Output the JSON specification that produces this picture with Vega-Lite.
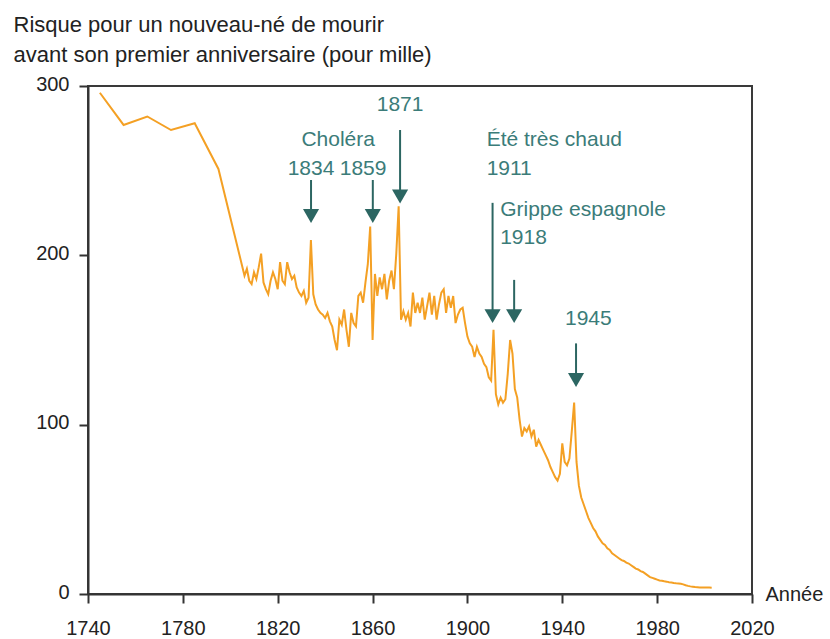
{
  "$schema": "https://vega.github.io/schema/vega-lite/v6.json",
  "width": 664,
  "height": 508,
  "autosize": {"type": "none"},
  "padding": {"left": 88, "top": 86, "right": 78, "bottom": 45},
  "background": "white",
  "config": {
    "view": {"stroke": "#3a3a3a", "strokeWidth": 2},
    "font": "Liberation Sans"
  },
  "datasets": {
    "imr": [
      {"year":1745,"value":296},{"year":1755,"value":277},{"year":1765,"value":282},{"year":1775,"value":274},{"year":1785,"value":278},{"year":1795,"value":251},
      {"year":1806,"value":188},{"year":1807,"value":192},{"year":1808,"value":185},{"year":1809,"value":183},{"year":1810,"value":190},
      {"year":1811,"value":186},{"year":1812,"value":193},{"year":1813,"value":201},{"year":1814,"value":184},{"year":1815,"value":180},
      {"year":1816,"value":177},{"year":1817,"value":185},{"year":1818,"value":190},{"year":1819,"value":186},{"year":1820,"value":180},
      {"year":1821,"value":196},{"year":1822,"value":185},{"year":1823,"value":183},{"year":1824,"value":196},{"year":1825,"value":190},
      {"year":1826,"value":186},{"year":1827,"value":188},{"year":1828,"value":181},{"year":1829,"value":178},{"year":1830,"value":176},
      {"year":1831,"value":179},{"year":1832,"value":172},{"year":1833,"value":175},{"year":1834,"value":209},{"year":1835,"value":177},
      {"year":1836,"value":171},{"year":1837,"value":168},{"year":1838,"value":166},{"year":1839,"value":165},{"year":1840,"value":163},
      {"year":1841,"value":166},{"year":1842,"value":161},{"year":1843,"value":158},{"year":1844,"value":150},{"year":1845,"value":144},
      {"year":1846,"value":162},{"year":1847,"value":159},{"year":1848,"value":168},{"year":1849,"value":156},{"year":1850,"value":146},
      {"year":1851,"value":166},{"year":1852,"value":160},{"year":1853,"value":158},{"year":1854,"value":176},{"year":1855,"value":178},
      {"year":1856,"value":172},{"year":1857,"value":184},{"year":1858,"value":195},{"year":1859,"value":217},{"year":1860,"value":150},
      {"year":1861,"value":189},{"year":1862,"value":176},{"year":1863,"value":187},{"year":1864,"value":180},{"year":1865,"value":189},
      {"year":1866,"value":174},{"year":1867,"value":185},{"year":1868,"value":191},{"year":1869,"value":180},{"year":1870,"value":201},
      {"year":1871,"value":229},{"year":1872,"value":162},{"year":1873,"value":167},{"year":1874,"value":162},{"year":1875,"value":166},
      {"year":1876,"value":158},{"year":1877,"value":178},{"year":1878,"value":166},{"year":1879,"value":172},{"year":1880,"value":166},
      {"year":1881,"value":175},{"year":1882,"value":162},{"year":1883,"value":170},{"year":1884,"value":178},{"year":1885,"value":165},
      {"year":1886,"value":176},{"year":1887,"value":162},{"year":1888,"value":171},{"year":1889,"value":178},{"year":1890,"value":180},
      {"year":1891,"value":166},{"year":1892,"value":176},{"year":1893,"value":169},{"year":1894,"value":176},{"year":1895,"value":160},
      {"year":1896,"value":165},{"year":1897,"value":168},{"year":1898,"value":169},{"year":1899,"value":160},{"year":1900,"value":152},
      {"year":1901,"value":148},{"year":1902,"value":146},{"year":1903,"value":140},{"year":1904,"value":146},{"year":1905,"value":142},
      {"year":1906,"value":140},{"year":1907,"value":136},{"year":1908,"value":134},{"year":1909,"value":128},{"year":1910,"value":126},
      {"year":1911,"value":156},{"year":1912,"value":118},{"year":1913,"value":112},{"year":1914,"value":116},{"year":1915,"value":113},
      {"year":1916,"value":115},{"year":1917,"value":130},{"year":1918,"value":150},{"year":1919,"value":142},{"year":1920,"value":121},
      {"year":1921,"value":116},{"year":1922,"value":103},{"year":1923,"value":93},{"year":1924,"value":98},{"year":1925,"value":96},
      {"year":1926,"value":99},{"year":1927,"value":93},{"year":1928,"value":97},{"year":1929,"value":87},{"year":1930,"value":91},
      {"year":1931,"value":88},{"year":1932,"value":85},{"year":1933,"value":82},{"year":1934,"value":79},{"year":1935,"value":75},
      {"year":1936,"value":72},{"year":1937,"value":69},{"year":1938,"value":67},{"year":1939,"value":71},{"year":1940,"value":89},
      {"year":1941,"value":78},{"year":1942,"value":76},{"year":1943,"value":80},{"year":1944,"value":96},{"year":1945,"value":113},
      {"year":1946,"value":78},{"year":1947,"value":64},{"year":1948,"value":57},{"year":1949,"value":53},{"year":1950,"value":49},
      {"year":1951,"value":45},{"year":1952,"value":42},{"year":1953,"value":39},{"year":1954,"value":37},{"year":1955,"value":34},
      {"year":1956,"value":32},{"year":1957,"value":30},{"year":1958,"value":29},{"year":1959,"value":27},{"year":1960,"value":26},
      {"year":1961,"value":24},{"year":1962,"value":23},{"year":1963,"value":22},{"year":1964,"value":21},{"year":1965,"value":20},
      {"year":1966,"value":19.5},{"year":1967,"value":18.5},{"year":1968,"value":18},{"year":1969,"value":17},{"year":1970,"value":16},
      {"year":1971,"value":15},{"year":1972,"value":14.5},{"year":1973,"value":13.5},{"year":1974,"value":13},{"year":1975,"value":12},
      {"year":1976,"value":11},{"year":1977,"value":10},{"year":1978,"value":9.5},{"year":1979,"value":9},{"year":1980,"value":8.5},
      {"year":1981,"value":8},{"year":1982,"value":7.8},{"year":1983,"value":7.5},{"year":1984,"value":7.3},{"year":1985,"value":7},
      {"year":1986,"value":6.8},{"year":1987,"value":6.5},{"year":1988,"value":6.3},{"year":1989,"value":6.2},{"year":1990,"value":6},
      {"year":1991,"value":5.7},{"year":1992,"value":5.2},{"year":1993,"value":4.8},{"year":1994,"value":4.5},{"year":1995,"value":4.3},
      {"year":1996,"value":4.1},{"year":1997,"value":4},{"year":1998,"value":3.9},{"year":1999,"value":3.9},{"year":2000,"value":3.8},
      {"year":2001,"value":3.8},{"year":2002,"value":3.8},{"year":2003,"value":3.7}
    ],
    "arrows": [
      {"year":1834.05,"value":244.5,"head":223.2},
      {"year":1860.1,"value":244.5,"head":223.2},
      {"year":1871.6,"value":274,"head":234.8},
      {"year":1910.6,"value":231,"head":164.1},
      {"year":1919.7,"value":185.5,"head":164.1},
      {"year":1945.8,"value":148,"head":126.4}
    ],
    "labC": [
      {"year":1845.5,"value":268,"text":"Choléra"},
      {"year":1834.05,"value":251,"text":"1834"},
      {"year":1856,"value":251,"text":"1859"},
      {"year":1871.6,"value":288.5,"text":"1871"},
      {"year":1951,"value":162.5,"text":"1945"}
    ],
    "labL": [
      {"year":1908.1,"value":268,"text":"Été très chaud"},
      {"year":1908.1,"value":251,"text":"1911"},
      {"year":1913.8,"value":226.5,"text":"Grippe espagnole"},
      {"year":1913.8,"value":210.5,"text":"1918"}
    ]
  },
  "encoding": {
    "x": {
      "field": "year", "type": "quantitative",
      "scale": {"domain": [1740, 2020], "nice": false, "zero": false},
      "axis": {
        "values": [1740, 1780, 1820, 1860, 1900, 1940, 1980, 2020],
        "format": "d", "grid": false,
        "labelFontSize": 20, "labelColor": "#222", "labelFont": "Liberation Sans",
        "labelPadding": 15, "labelFlush": false, "labelOverlap": false,
        "tickSize": 9, "tickWidth": 2, "tickColor": "#333",
        "domainColor": "#333", "domainWidth": 2,
        "title": "Année", "titleFont": "Liberation Sans", "titleFontSize": 20, "titleFontWeight": "normal",
        "titleColor": "#222", "titleAlign": "left", "titleBaseline": "middle",
        "titleX": 677, "titleY": 0, "titleAngle": 0
      }
    },
    "y": {
      "field": "value", "type": "quantitative",
      "scale": {"domain": [0, 300], "nice": false},
      "axis": {
        "values": [0, 100, 200, 300], "grid": false,
        "labelFontSize": 20, "labelColor": "#222", "labelFont": "Liberation Sans",
        "labelPadding": 10, "labelOffset": -2, "labelBaseline": "middle",
        "tickSize": 9, "tickWidth": 2, "tickColor": "#333",
        "domainColor": "#333", "domainWidth": 2,
        "title": ["Risque pour un nouveau-né de mourir", "avant son premier anniversaire (pour mille)"],
        "titleFont": "Liberation Sans", "titleFontSize": 22, "titleFontWeight": "normal",
        "titleColor": "#222", "titleAngle": 0, "titleAlign": "left", "titleBaseline": "alphabetic",
        "titleLineHeight": 30, "titleX": -75, "titleY": -55
      }
    }
  },
  "layer": [
    {
      "data": {"name": "imr"},
      "mark": {"type": "line", "color": "#F4A024", "strokeWidth": 2}
    },
    {
      "data": {"name": "arrows"},
      "mark": {"type": "rule", "color": "#2C6662", "strokeWidth": 2},
      "encoding": {
        "y2": {"field": "head"}
      }
    },
    {
      "data": {"name": "arrows"},
      "mark": {"type": "point", "shape": "triangle-down", "size": 260, "filled": true, "color": "#2C6662", "opacity": 1},
      "encoding": {
        "y": {"field": "head", "type": "quantitative"}
      }
    },
    {
      "data": {"name": "labC"},
      "mark": {"type": "text", "align": "center", "baseline": "middle", "font": "Liberation Sans", "fontSize": 21, "color": "#3B7C79"},
      "encoding": {
        "text": {"field": "text"}
      }
    },
    {
      "data": {"name": "labL"},
      "mark": {"type": "text", "align": "left", "baseline": "middle", "font": "Liberation Sans", "fontSize": 21, "color": "#3B7C79"},
      "encoding": {
        "text": {"field": "text"}
      }
    }
  ]
}
